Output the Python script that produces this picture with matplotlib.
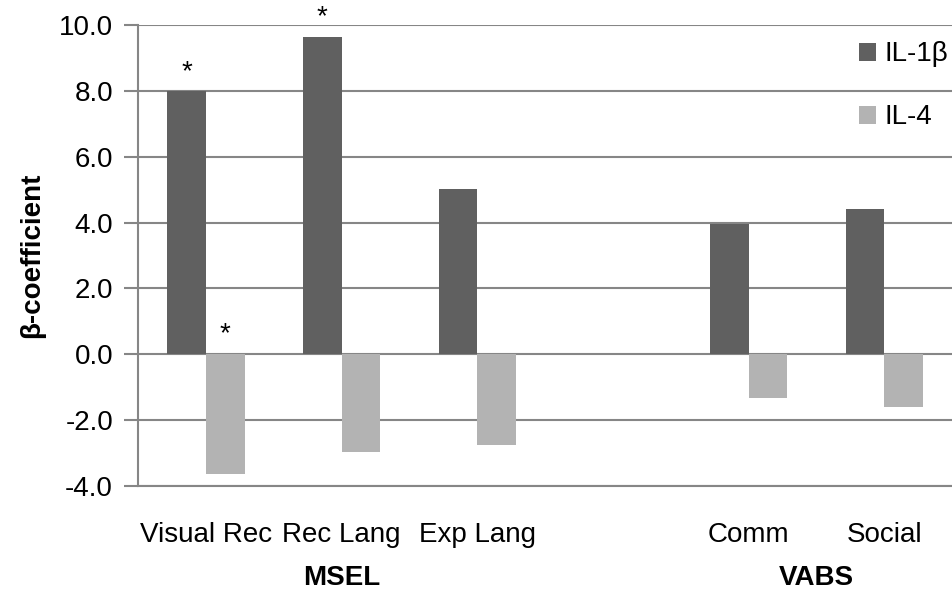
import matplotlib
matplotlib.use('Agg')
import matplotlib.pyplot as plt
import numpy as np

plt.rcParams['font.family'] = ['Liberation Sans', 'DejaVu Sans']

# data
categories = ['Visual Rec', 'Rec Lang', 'Exp Lang', '', 'Comm', 'Social']
il1b = [7.98, 9.64, 5.03, np.nan, 3.94, 4.40]
il4 = [-3.64, -2.96, -2.76, np.nan, -1.33, -1.59]
il1b_sig = [True, True, False, False, False, False]
il4_sig = [True, False, False, False, False, False]
groups = ['MSEL', 'VABS']
group_pos = [1, 4.5]

dark = '#606060'
light = '#b3b3b3'
grid_c = '#868686'
fs = 20

fig = plt.figure(figsize=(9.52, 5.92), dpi=100)
ax = fig.add_axes([0.145, 0.179, 0.855, 0.779])

x = np.arange(len(categories))
w = 0.285
ax.bar(x - w / 2, il1b, w, color=dark, label='IL-1\u03b2', zorder=3)
ax.bar(x + w / 2, il4, w, color=light, label='IL-4', zorder=3)

# significance stars
for i in range(len(categories)):
    if il1b_sig[i]:
        ax.text(x[i] - w / 2, il1b[i] + 0.2, '*', ha='center', va='bottom',
                fontsize=fs, clip_on=False)
    if il4_sig[i]:
        ax.text(x[i] + w / 2, 0.2, '*', ha='center', va='bottom',
                fontsize=fs, clip_on=False)

ax.set_ylim(-4, 10)
ax.set_xlim(-0.5, len(categories) - 0.5)
ax.set_yticks(np.arange(-4, 10.1, 2))
ax.set_yticklabels(['%.1f' % v for v in np.arange(-4, 10.1, 2)], fontsize=fs)
ax.set_xticks(x)
ax.set_xticklabels(categories, fontsize=fs)
ax.tick_params(axis='x', length=0, pad=26)
ax.tick_params(axis='y', length=10, width=1.5, color=grid_c, pad=8)

ax.yaxis.grid(True, color=grid_c, linewidth=1.5, zorder=0)
ax.set_axisbelow(True)
for s in ['top', 'right']:
    ax.spines[s].set_visible(False)
for s in ['left', 'bottom']:
    ax.spines[s].set_color(grid_c)
    ax.spines[s].set_linewidth(1.5)

ax.set_ylabel('\u03b2-coefficient', fontsize=fs, fontweight='bold', labelpad=10)

for g, p in zip(groups, group_pos):
    ax.text(p, -0.2, g, transform=ax.get_xaxis_transform(), ha='center',
            va='center', fontsize=fs, fontweight='bold')

ax.legend(loc='upper left', bbox_to_anchor=(0.902, 0.93),
          bbox_transform=fig.transFigure, frameon=False, fontsize=fs,
          handlelength=0.62, handleheight=0.62, handletextpad=0.3,
          labelspacing=1.33, borderaxespad=0, borderpad=0)

fig.savefig('out.png', dpi=100)
